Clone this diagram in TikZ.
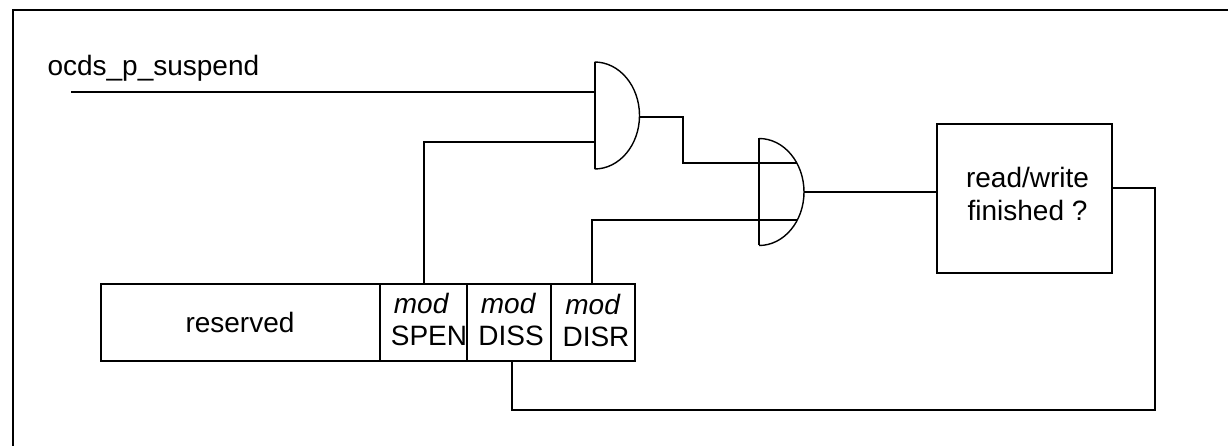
\documentclass[tikz,border=0pt]{standalone}
\usepackage{fontspec}
\setmainfont{Liberation Sans}
\usetikzlibrary{positioning}

\begin{document}
\begin{tikzpicture}[x=1pt,y=-1pt,line width=2pt,
    every node/.style={font=\fontsize{28}{33}\selectfont},
    gate/.style={rectangle,minimum width=45pt,minimum height=107pt,inner sep=0pt,outer sep=0pt},
    block/.style={rectangle,draw,inner sep=0pt,outer sep=0pt,align=center},
    field/.style={block,minimum height=77pt},
    tag/.style={anchor=base,inner sep=0pt}]
    \useasboundingbox (0,0) rectangle (1228,446);
    \coordinate (tl) at (13,10);
    \coordinate (tr) at (1228,10);
    \coordinate (bl) at (13,446);
    \draw (bl) -- (tl) -- (tr);
    \node[anchor=base west,inner sep=0pt] (sig) at (46.5,75.5) {ocds\_p\_suspend};
    \coordinate (start) at (71,92);
    % gates
    \node[gate] (g1) at (617,115.5) {};
    \node[gate] (g2) at (781.5,192) {};
    \draw (g1.north west) -- (g1.south west);
    \draw[line width=1.4pt] (g1.north west) arc[start angle=-90,end angle=90,x radius=45,y radius=53.5];
    \draw (g2.north west) -- (g2.south west);
    \draw[line width=1.4pt] (g2.north west) arc[start angle=-90,end angle=90,x radius=45,y radius=53.5];
    % register
    \node[field,minimum width=279pt] (res) at (240.5,322.5) {};
    \node[field,minimum width=87pt,right=0pt of res] (spen) {};
    \node[field,minimum width=84pt,right=0pt of spen] (diss) {};
    \node[field,minimum width=84pt,right=0pt of diss] (disr) {};
    \node[tag] (restxt) at (240,332) {reserved};
    \node[tag] (spenm) at (421.5,313) {\textit{mod}};
    \node[tag] (spent) at (429,345) {SPEN};
    \node[tag] (dissm) at (508.5,313) {\textit{mod}};
    \node[tag] (disst) at (511,345) {DISS};
    \node[tag] (disrm) at (593,314) {\textit{mod}};
    \node[tag] (disrt) at (596,346) {DISR};
    \node[block,minimum width=175pt,minimum height=149pt] (rw) at (1024.5,198.5) {};
    \node[inner sep=0pt,align=center] (rwtxt) at (1027.5,194) {read/write\\finished ?};
    % wires
    \draw (start) -- (g1.west |- 0,92);
    \draw (spen.north) |- (g1.west |- 0,142);
    \draw (g1.east |- 0,117) -- (683,117) |- (797,163);
    \draw ([xshift=-1pt]disr.north) |- (797,220);
    \draw (g2.east) -- (rw.west |- g2.east);
    \draw (rw.east |- 0,188.5) -- (1154.5,188.5) |- ([xshift=3pt]diss.south |- 0,410) -- ([xshift=3pt]diss.south);
\end{tikzpicture}
\end{document}
